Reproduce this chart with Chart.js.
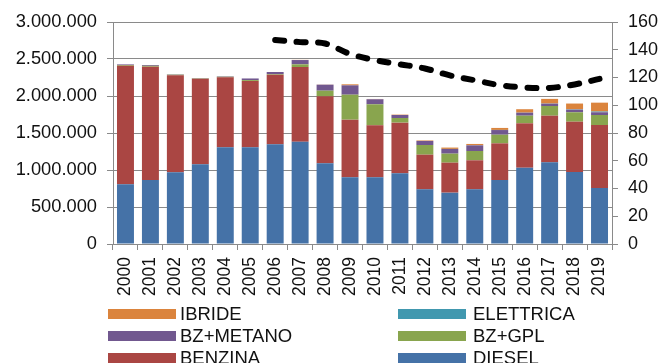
<!DOCTYPE html>
<html>
<head>
<meta charset="utf-8">
<script src="https://cdn.jsdelivr.net/npm/chart.js@4/dist/chart.umd.min.js"></script>
<style>
  body { margin: 0; background: #fff; }
  #wrap { position: relative; width: 662px; height: 363px; overflow: hidden; }
  .leg { position: absolute; font: 18.5px "Liberation Sans", Arial, sans-serif; color: #111; line-height: 22px; white-space: nowrap; }
  .sw { position: absolute; width: 68px; height: 10px; }
</style>
</head>
<body>
<div id="wrap">
  <canvas id="chart" width="662" height="363"></canvas>
  <div id="legend"></div>
</div>
<script>
const years = ['2000', '2001', '2002', '2003', '2004', '2005', '2006', '2007', '2008', '2009',
               '2010', '2011', '2012', '2013', '2014', '2015', '2016', '2017', '2018', '2019'];

const diesel    = [807000, 865000, 969000, 1077000, 1307000, 1307000, 1347000, 1383000, 1090000, 901000,
                   901000, 955000, 739000, 694000, 739000, 865000, 1031000, 1104000, 973000, 757000];
const benzina   = [1602000, 1531000, 1311000, 1157000, 945000, 896000, 941000, 1009000, 905000, 779000,
                   703000, 685000, 468000, 405000, 392000, 495000, 600000, 630000, 680000, 851000];
const bzGpl     = [10000, 12000, 8000, 5000, 8000, 12000, 9000, 36000, 77000, 338000,
                   284000, 63000, 131000, 122000, 126000, 117000, 103000, 131000, 127000, 135000];
const bzMetano  = [8000, 11000, 5000, 4000, 6000, 22000, 27000, 58000, 81000, 126000,
                   68000, 40000, 54000, 63000, 76000, 63000, 40000, 31000, 35000, 37000];
const elettrica = [0, 0, 0, 0, 0, 0, 0, 0, 0, 0,
                   0, 300, 500, 1000, 1000, 1500, 1400, 2000, 5000, 10000];
const ibride    = [0, 0, 0, 0, 0, 0, 0, 2000, 2000, 14000,
                   4000, 5000, 7000, 18000, 18000, 27000, 46000, 63000, 78000, 120000];
// black dashed line, right axis
const lineValues = [null, null, null, null, null, null, 147, 145.5, 144.5, 137,
                    132.5, 129.5, 126.5, 121.5, 118, 114.5, 112.8, 112.5, 115, 119];

const fontFamily = '"Liberation Sans", Arial, sans-serif';
const gridColor = '#8a8a8a';

function fmt(v) {
    return String(v).replace(/\B(?=(\d{3})+(?!\d))/g, '.');
}

function bar(label, data, color) {
    return { type: 'bar', label: label, data: data, backgroundColor: color, borderWidth: 0, yAxisID: 'y', order: 1 };
}

const barSets = [
    bar('DIESEL', diesel, '#4572A7'),
    bar('BENZINA', benzina, '#AA4643'),
    bar('BZ+GPL', bzGpl, '#89A54E'),
    bar('BZ+METANO', bzMetano, '#71588F'),
    bar('ELETTRICA', elettrica, '#4198AF'),
    bar('IBRIDE', ibride, '#DB843D')
];

const ctx = document.getElementById('chart').getContext('2d');
const chart = new Chart(ctx, {
    type: 'bar',
    data: {
        labels: years,
        datasets: barSets.concat([{
            type: 'line',
            label: 'linea',
            data: lineValues,
            yAxisID: 'y1',
            borderColor: '#000',
            borderWidth: 6,
            borderDash: [9, 12.5],
            borderCapStyle: 'round',
            pointRadius: 0,
            tension: 0.35,
            fill: false,
            order: 0
        }])
    },
    options: {
        responsive: false,
        animation: false,
        devicePixelRatio: 1,
        categoryPercentage: 1,
        barPercentage: 0.68,
        layout: { padding: { top: 22, left: 0, right: 0, bottom: 0 } },
        plugins: { legend: { display: false }, tooltip: { enabled: false } },
        scales: {
            x: {
                stacked: true,
                afterFit: s => { s.height = 119; },
                grid: { display: true, drawOnChartArea: false, offset: true, color: gridColor, tickLength: 6 },
                border: { display: true, color: gridColor },
                ticks: {
                    minRotation: 90, maxRotation: 90, padding: 7, autoSkip: false,
                    color: '#111', font: { family: fontFamily, size: 17.5 }
                }
            },
            y: {
                stacked: true,
                position: 'left',
                min: 0, max: 3000000,
                afterFit: s => { s.width = 113; },
                grid: { color: gridColor, tickLength: 6 },
                border: { display: true, color: gridColor },
                ticks: {
                    stepSize: 500000, padding: 10, color: '#111',
                    font: { family: fontFamily, size: 18.3 },
                    callback: v => fmt(v)
                }
            },
            y1: {
                position: 'right',
                min: 0, max: 160,
                afterFit: s => { s.width = 50; },
                grid: { drawOnChartArea: false, color: gridColor, tickLength: 6 },
                border: { display: true, color: gridColor },
                ticks: {
                    stepSize: 20, padding: 10, color: '#111',
                    font: { family: fontFamily, size: 18 }
                }
            }
        }
    }
});

// legend in two columns, top of the stack first
const legend = document.getElementById('legend');
const legendOrder = barSets.slice().reverse();
legendOrder.forEach((ds, i) => {
    const col = i % 2, row = Math.floor(i / 2);
    const swX = col === 0 ? 108 : 398;
    const txX = col === 0 ? 180 : 473;
    const cy = 314 + row * 22;
    const sw = document.createElement('div');
    sw.className = 'sw';
    sw.style.left = swX + 'px';
    sw.style.top = (cy - 5) + 'px';
    sw.style.background = ds.backgroundColor;
    legend.appendChild(sw);
    const tx = document.createElement('div');
    tx.className = 'leg';
    tx.style.left = txX + 'px';
    tx.style.top = (cy - 11) + 'px';
    tx.textContent = ds.label;
    legend.appendChild(tx);
});
</script>
</body>
</html>
